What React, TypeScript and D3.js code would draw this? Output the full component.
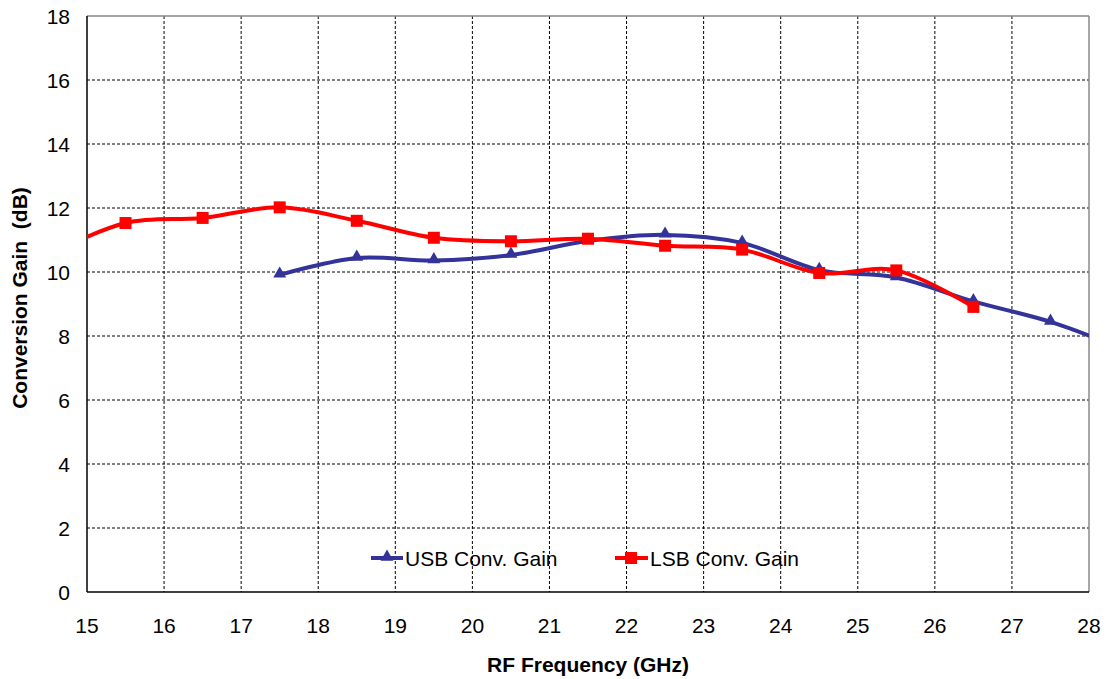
import React from "react";
import * as d3 from "d3";

const xTicks = [15, 16, 17, 18, 19, 20, 21, 22, 23, 24, 25, 26, 27, 28];
const yTicks = [0, 2, 4, 6, 8, 10, 12, 14, 16, 18];

const usbFreq = [17.5, 18.5, 19.5, 20.5, 21.5, 22.5, 23.5, 24.5, 25.5, 26.5, 27.5, 28.5];
const usbGain = [9.91, 10.44, 10.36, 10.53, 10.97, 11.16, 10.91, 10.06, 9.83, 9.08, 8.44, 7.55];

const lsbFreq = [14.5, 15.5, 16.5, 17.5, 18.5, 19.5, 20.5, 21.5, 22.5, 23.5, 24.5, 25.5, 26.5];
const lsbGain = [10.55, 11.53, 11.69, 12.02, 11.6, 11.07, 10.96, 11.04, 10.82, 10.7, 9.97, 10.05, 8.91];

const W = 1111;
const H = 679;
const L = 87, R = 1089, T = 16, B = 592;

export default function App() {
  const x = d3.scaleLinear().domain([15, 28]).range([L, R]);
  const y = d3.scaleLinear().domain([0, 18]).range([B, T]);
  const line = d3
    .line<[number, number]>()
    .x((d) => x(d[0]))
    .y((d) => y(d[1]))
    .curve(d3.curveCardinal.tension(0));
  const usb: [number, number][] = usbFreq.map((f, i) => [f, usbGain[i]]);
  const lsb: [number, number][] = lsbFreq.map((f, i) => [f, lsbGain[i]]);
  const font = "Arial, 'Liberation Sans', sans-serif";
  const tri = d3.symbol().type(d3.symbolTriangle).size(72)()!;
  const inRange = (d: [number, number]) => d[0] >= 15 && d[0] <= 28;

  return (
    <svg width={W} height={H} style={{ position: "absolute", left: 0, top: 0 }} fontFamily={font}>
      <defs>
        <clipPath id="plot">
          <rect x={L} y={T} width={R - L} height={B - T} />
        </clipPath>
      </defs>
      <rect x={0} y={0} width={W} height={H} fill="#fff" />
      {/* grid */}
      {xTicks.slice(1, -1).map((t) => (
        <line key={"gx" + t} x1={x(t)} x2={x(t)} y1={T} y2={B} stroke="#000" strokeWidth={1} strokeDasharray="3,2" />
      ))}
      {yTicks.slice(1, -1).map((t) => (
        <line key={"gy" + t} x1={L} x2={R} y1={y(t)} y2={y(t)} stroke="#000" strokeWidth={1} strokeDasharray="3,2" />
      ))}
      {/* border */}
      <line x1={L} x2={R} y1={T} y2={T} stroke="#888" strokeWidth={1.5} />
      <line x1={R} x2={R} y1={T} y2={B} stroke="#888" strokeWidth={1.5} />
      <line x1={L} x2={L} y1={T} y2={B} stroke="#000" strokeWidth={1.5} />
      <line x1={L} x2={R} y1={B} y2={B} stroke="#000" strokeWidth={1.5} />
      {/* tick labels */}
      {yTicks.map((t) => (
        <text key={"yl" + t} x={70} y={y(t) + 7.5} textAnchor="end" fontSize={21} fill="#000">
          {t}
        </text>
      ))}
      {xTicks.map((t) => (
        <text key={"xl" + t} x={x(t)} y={633} textAnchor="middle" fontSize={21} fill="#000">
          {t}
        </text>
      ))}
      {/* series */}
      <g clipPath="url(#plot)">
        <path d={line(usb)!} fill="none" stroke="#333399" strokeWidth={4} />
        <path d={line(lsb)!} fill="none" stroke="#ff0000" strokeWidth={4} />
        {usb.filter(inRange).map((d, i) => (
          <path key={"u" + i} d={tri} transform={`translate(${x(d[0])},${y(d[1]) - 1})`} fill="#333399" />
        ))}
        {lsb.filter(inRange).map((d, i) => (
          <rect key={"l" + i} x={x(d[0]) - 6} y={y(d[1]) - 6} width={12} height={12} fill="#ff0000" />
        ))}
      </g>
      {/* legend */}
      <line x1={371} x2={403} y1={558} y2={558} stroke="#333399" strokeWidth={4} />
      <path d={tri} transform={`translate(387,557)`} fill="#333399" />
      <text x={405} y={566} fontSize={21} fill="#000">USB Conv. Gain</text>
      <line x1={615} x2={648} y1={558} y2={558} stroke="#ff0000" strokeWidth={4} />
      <rect x={625} y={552} width={12} height={12} fill="#ff0000" />
      <text x={650} y={566} fontSize={21} fill="#000">LSB Conv. Gain</text>
      {/* axis titles */}
      <text x={588} y={672} textAnchor="middle" fontSize={21} fontWeight="bold" fill="#000">
        RF Frequency (GHz)
      </text>
      <text
        transform={`translate(27,298) rotate(-90)`}
        textAnchor="middle"
        fontSize={21}
        fontWeight="bold"
        fill="#000"
        style={{ whiteSpace: "pre" }}
      >
        {"Conversion Gain  (dB)"}
      </text>
    </svg>
  );
}
